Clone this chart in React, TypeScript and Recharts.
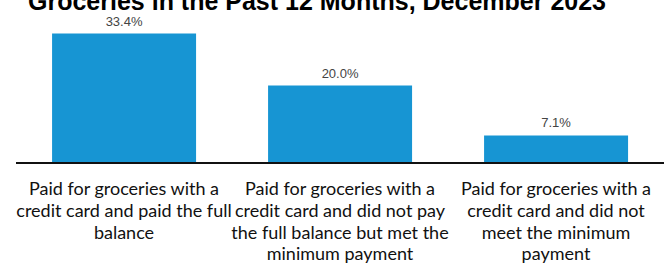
import { BarChart, Bar, XAxis, YAxis, LabelList } from "recharts";

// category labels, already broken into the lines shown under each bar
const categories = [
  ["Paid for groceries with a", "credit card and paid the full", "balance"],
  ["Paid for groceries with a", "credit card and did not pay", "the full balance but met the", "minimum payment"],
  ["Paid for groceries with a", "credit card and did not", "meet the minimum", "payment"],
];
const shares = [33.4, 20.0, 7.1];

const TITLE = "Groceries in the Past 12 Months, December 2023";
const BAR_COLOR = "#1795d3";

const data = categories.map((lines, i) => ({ name: lines.join(" "), lines, value: shares[i] }));

function MultiLineTick({ x, y, index }: any) {
  const lines = categories[index] || [];
  return (
    <text x={x} y={y} textAnchor="middle" fill="#111" fontSize={18} fontFamily="Lato">
      {lines.map((ln, i) => (
        <tspan key={i} x={x} dy={i === 0 ? 24 : 21.8}>{ln}</tspan>
      ))}
    </text>
  );
}

export default function App() {
  return (
    <div style={{ position: "absolute", left: 0, top: 0, width: 665, height: 263, background: "#fff", overflow: "hidden" }}>
      <div
        style={{
          position: "absolute", left: 28, top: -13, fontFamily: "'Liberation Sans', Arial, sans-serif",
          fontWeight: 700, fontSize: 25, color: "#000", whiteSpace: "nowrap",
        }}
      >
        {TITLE}
      </div>
      <BarChart width={665} height={263} data={data} margin={{ top: 8, right: 1, left: 16, bottom: 0 }} barCategoryGap="16.7%">
        <XAxis
          dataKey="name"
          interval={0}
          height={100}
          tickLine={false}
          axisLine={{ stroke: "#111", strokeWidth: 2 }}
          tick={<MultiLineTick />}
        />
        <YAxis hide domain={[0, 40]} />
        <Bar dataKey="value" fill={BAR_COLOR} isAnimationActive={false}>
          <LabelList
            dataKey="value"
            position="top"
            offset={8}
            formatter={(v: any) => `${Number(v).toFixed(1)}%`}
            fill="#444"
            fontSize={13}
            fontFamily="'Liberation Sans', Arial, sans-serif"
          />
        </Bar>
      </BarChart>
    </div>
  );
}
